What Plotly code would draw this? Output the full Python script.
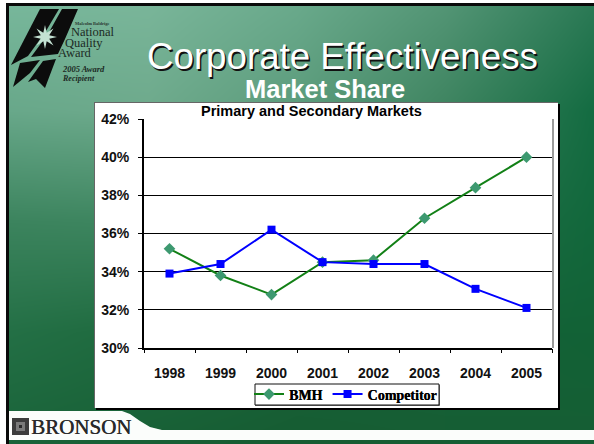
import base64, struct, zlib
import numpy as np
import plotly.graph_objects as go

# ---- data ----
years = ["1998", "1999", "2000", "2001", "2002", "2003", "2004", "2005"]
bmh = [35.2, 33.8, 32.8, 34.5, 34.6, 36.8, 38.4, 40.0]
competitor = [33.9, 34.4, 36.2, 34.5, 34.4, 34.4, 33.1, 32.1]
y_ticks = [30, 32, 34, 36, 38, 40, 42]
y_labels = ["30%", "32%", "34%", "36%", "38%", "40%", "42%"]

W, H = 594, 444


def make_background():
    grid = np.array([
        [[120, 184, 156], [122, 182, 154], [106, 170, 140], [84, 150, 118], [44, 122, 86]],
        [[104, 168, 138], [110, 170, 140], [92, 156, 124], [62, 132, 96], [20, 108, 66]],
        [[60, 132, 94], [62, 134, 96], [56, 128, 90], [36, 112, 72], [18, 104, 60]],
        [[36, 112, 70], [30, 106, 62], [26, 100, 58], [22, 98, 56], [18, 98, 54]],
        [[26, 100, 58], [24, 96, 54], [22, 92, 50], [22, 94, 52], [22, 94, 52]],
    ], dtype=float)
    ys = np.linspace(0, grid.shape[0] - 1, H)
    xs = np.linspace(0, grid.shape[1] - 1, W)
    y0 = np.minimum(ys.astype(int), grid.shape[0] - 2)
    x0 = np.minimum(xs.astype(int), grid.shape[1] - 2)
    fy = (ys - y0)[:, None, None]
    fx = (xs - x0)[None, :, None]
    g = grid[y0][:, x0]
    gx = grid[y0][:, x0 + 1]
    gy = grid[y0 + 1][:, x0]
    gxy = grid[y0 + 1][:, x0 + 1]
    img = g * (1 - fx) * (1 - fy) + gx * fx * (1 - fy) + gy * (1 - fx) * fy + gxy * fx * fy
    img = img.clip(0, 255).astype(np.uint8)
    raw = b"".join(b"\x00" + img[r].tobytes() for r in range(H))

    def chunk(tag, body):
        return struct.pack(">I", len(body)) + tag + body + struct.pack(">I", zlib.crc32(tag + body))

    png = (b"\x89PNG\r\n\x1a\n"
           + chunk(b"IHDR", struct.pack(">IIBBBBB", W, H, 8, 2, 0, 0, 0))
           + chunk(b"IDAT", zlib.compress(raw))
           + chunk(b"IEND", b""))
    return "data:image/png;base64," + base64.b64encode(png).decode()


fig = go.Figure()
fig.add_trace(go.Scatter(
    x=years, y=bmh, name="BMH", mode="lines+markers",
    line=dict(color="#128016", width=2),
    marker=dict(symbol="diamond", size=9, color="#3d9970", line=dict(width=0)),
))
fig.add_trace(go.Scatter(
    x=years, y=competitor, name="Competitor", mode="lines+markers",
    line=dict(color="#0000ff", width=2),
    marker=dict(symbol="square", size=8, color="#0000ff"),
))


def rect(x0, y0, x1, y1, color, line=None):
    return dict(type="rect", xref="paper", yref="paper", layer="below",
                x0=x0 / W, x1=x1 / W, y0=1 - y1 / H, y1=1 - y0 / H,
                fillcolor=color, line=dict(color=line or color, width=1 if line else 0))


def pix(points):
    return "M " + " L ".join(f"{x / W:.5f} {1 - y / H:.5f}" for x, y in points) + " Z"


def paper_path(points, color):
    return dict(type="path", xref="paper", yref="paper", layer="below", path=pix(points),
                fillcolor=color, line=dict(width=0))


band = [(9, 411), (122, 411), (130, 414), (140, 421), (150, 427), (162, 430), (594, 430),
        (594, 440), (9, 440)]
star = []
for i in range(16):
    a = np.pi * 2 * i / 16 - np.pi / 2
    r = 12 if i % 2 == 0 else 4.5
    star.append((round(45 + r * np.cos(a), 1), round(37 + r * np.sin(a), 1)))

shapes = [
    rect(0, 0, W, 3, "#ffffff"),
    rect(0, 0, 6, H, "#ffffff"),
    rect(6, 3, W, 6, "#0a0a0a"),
    rect(6, 3, 9, H, "#0a0a0a"),
    paper_path(band, "#fbfdfb"),
    rect(96, 104, 560, 410, "#000000"),
    rect(94, 102, 558, 408, "#ffffff"),
    rect(94, 102, 558, 103, "#666666"),
    rect(94, 102, 95, 408, "#666666"),
    rect(552, 119, 554, 348, "#9a9a9a"),
    paper_path([(40, 9), (59, 9), (46, 31), (28, 56), (11, 65)], "#0c0c0c"),
    paper_path([(62, 9), (78, 9), (65, 39), (58, 54), (31, 57), (48, 34)], "#0c0c0c"),
    paper_path(star, "#c4e2d3"),
    paper_path([(20, 63), (40, 60), (30, 73), (13, 87)], "#0c0c0c"),
    paper_path([(43, 61), (56, 59), (45, 88), (36, 79), (28, 82)], "#0c0c0c"),
    rect(12, 418, 29, 435, "#3c3c3c"),
    rect(16, 422, 25, 431, "#7a7a7a"),
    rect(19, 425, 22, 428, "#2a2a2a"),
    rect(255, 385, 440, 406, "#777777"),
    rect(255, 384, 439, 405, "#ffffff", "#111111"),
]


def label(x, y, text, size, color="#111111", family="Liberation Sans", bold=False, italic=False,
          anchor="left", shadow=None):
    if bold:
        text = f"<b>{text}</b>"
    if italic:
        text = f"<i>{text}</i>"
    font = dict(size=size, color=color, family=family)
    if shadow:
        font["shadow"] = shadow
    return dict(xref="paper", yref="paper", x=x / W, y=1 - y / H, text=text, showarrow=False,
                xanchor=anchor, yanchor="middle", borderpad=0, borderwidth=0, font=font)


annotations = [
    label(75, 23, "Malcolm Baldrige", 4.5, "#2c3a33", "Liberation Serif", bold=True),
    label(71, 32, "National", 12.5, "#1c2a24", "Liberation Serif"),
    label(65, 43, "Quality", 12.5, "#1c2a24", "Liberation Serif"),
    label(58, 53, "Award", 12.5, "#1c2a24", "Liberation Serif"),
    label(62, 69, "2005 Award", 8.5, "#1c2a24", "Liberation Serif", bold=True, italic=True),
    label(62, 78.5, "Recipient", 8, "#1c2a24", "Liberation Serif", bold=True, italic=True),
    label(342.5, 56, "Corporate Effectiveness", 36.7, "#ffffff", anchor="center",
          shadow="1.5px 1.5px 0 #111111"),
    label(325, 88.5, "Market Share", 25.5, "#ffffff", bold=True, anchor="center"),
    label(311, 111, "Primary and Secondary Markets", 14.5, "#000000", bold=True, anchor="center"),
    label(31, 427, "BRONSON", 21, "#2a2a2a", "Liberation Serif", shadow="0.4px 0 0 #2a2a2a"),
]

fig.update_layout(
    width=W, height=H, margin=dict(l=0, r=0, t=0, b=0, autoexpand=False),
    paper_bgcolor="rgba(0,0,0,0)", plot_bgcolor="rgba(0,0,0,0)",
    images=[dict(source=make_background(), xref="paper", yref="paper", x=0, y=1,
                 sizex=1, sizey=1, sizing="stretch", layer="below", xanchor="left", yanchor="top")],
    shapes=shapes, annotations=annotations,
    showlegend=True,
    legend=dict(orientation="h", xref="paper", yref="paper", x=345.5 / W, y=1 - 394.5 / H,
                xanchor="center", yanchor="middle", bgcolor="rgba(0,0,0,0)",
                font=dict(family="Liberation Serif", size=14, color="#000000", weight="bold",
                          shadow="0.3px 0 0 #000000"),
                itemwidth=30, tracegroupgap=0),
    xaxis=dict(domain=[144 / W, 552 / W], type="category", categoryorder="array", categoryarray=years,
               range=[-0.5, 7.5], showgrid=False, showline=True, linecolor="#000000", linewidth=2,
               ticks="", tickfont=dict(family="Liberation Sans", size=14, color="#111111", weight="bold"),
               ticklabelstandoff=11),
    xaxis2=dict(domain=[144 / W, 552 / W], overlaying="x", anchor="y", side="bottom", range=[0, 8],
                tickmode="array", tickvals=list(range(9)), ticktext=[""] * 9, ticks="outside",
                ticklen=4, tickcolor="#000000", showgrid=False, showline=False, zeroline=False),
    yaxis=dict(domain=[1 - 348 / H, 1 - 119 / H], range=[30, 42], tickmode="array", tickvals=y_ticks,
               ticktext=y_labels, showgrid=True, gridcolor="#000000", gridwidth=1, showline=True,
               linecolor="#000000", linewidth=2, ticks="outside", ticklen=4, tickcolor="#000000",
               tickfont=dict(family="Liberation Sans", size=14, color="#111111", weight="bold"), zeroline=False,
               ticklabelstandoff=6),
)
fig.add_trace(go.Scatter(x=[0, 8], y=[30, 30], xaxis="x2", yaxis="y", mode="lines",
                         line=dict(width=0), showlegend=False, hoverinfo="skip"))

fig.write_html("out.html", post_script="document.body.style.margin='0';document.body.style.overflow='hidden';",
               config={"displayModeBar": False})
